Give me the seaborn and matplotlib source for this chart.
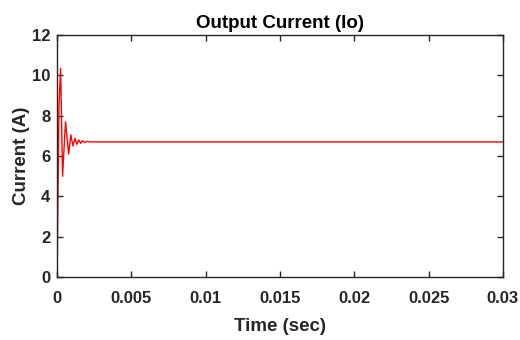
import matplotlib
matplotlib.use("Agg")
import matplotlib.pyplot as plt
import seaborn as sns
import pandas as pd
from matplotlib.ticker import FuncFormatter

sns.set_style("ticks")
plt.rcParams["font.family"] = ["Liberation Sans", "DejaVu Sans"]
plt.rcParams["font.weight"] = "bold"
plt.rcParams["xtick.direction"] = "in"
plt.rcParams["ytick.direction"] = "in"

# ── Data ────────────────────────────────────────────────────────────────────
time_s = [0, 0.00002, 0.00012, 0.00023, 0.00036, 0.00056, 0.00077, 0.00092,
          0.00106, 0.0012, 0.00132, 0.00145, 0.00158, 0.0017, 0.00185,
          0.002, 0.0022, 0.03]
current_a = [0, 2.0, 8.5, 10.35, 5.0, 7.7, 6.1, 7.05,
             6.5, 6.88, 6.58, 6.8, 6.63, 6.76, 6.67,
             6.73, 6.7, 6.7]

x_ticks = [0, 0.005, 0.01, 0.015, 0.02, 0.025, 0.03]
y_ticks = [0, 2, 4, 6, 8, 10, 12]

df = pd.DataFrame({"t": time_s, "i": current_a})
ink = "#262626"

fig = plt.figure(figsize=(5.2, 3.4), dpi=100)
ax = fig.add_axes([0.110, 0.185, 0.857, 0.712])
sns.lineplot(data=df, x="t", y="i", ax=ax, color="red", linewidth=1.0,
             estimator=None, sort=False)

ax.set_xlim(0, 0.03)
ax.set_ylim(0, 12)
ax.set_xticks(x_ticks)
ax.set_yticks(y_ticks)
ax.xaxis.set_major_formatter(FuncFormatter(lambda v, p: f"{v:g}"))
ax.tick_params(axis="both", labelsize=12, length=4, width=1, top=True,
               right=True, colors=ink)
ax.tick_params(axis="x", pad=10)
ax.tick_params(axis="y", pad=5)
for lab in ax.get_xticklabels() + ax.get_yticklabels():
    lab.set_fontweight("bold")
for sp in ax.spines.values():
    sp.set_visible(True)
    sp.set_linewidth(1.0)
    sp.set_color(ink)

ax.set_title("Output Current (Io)", fontsize=13.5, fontweight="bold",
             pad=5, color="black")
ax.set_xlabel("Time (sec)", fontsize=13.5, fontweight="bold", labelpad=8.5,
              color=ink)
ax.set_ylabel("Current (A)", fontsize=13.5, fontweight="bold", labelpad=1,
              color=ink)

plt.savefig("out.png", dpi=100)
plt.close()
